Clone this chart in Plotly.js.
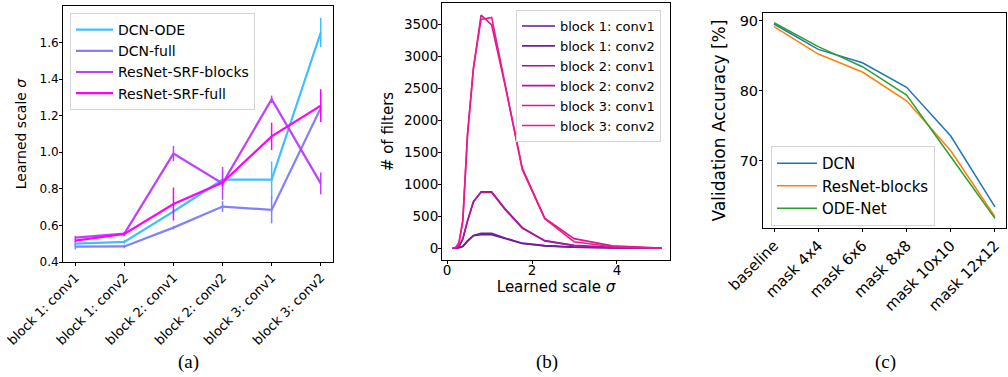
<!DOCTYPE html>
<html>
<head>
<meta charset="utf-8">
<script src="https://cdn.plot.ly/plotly-3.0.1.min.js"></script>
<style>
  html, body { margin: 0; padding: 0; background: #fff; }
  #chart { width: 1008px; height: 377px; }
</style>
</head>
<body>
<div id="chart"></div>
<script>
// ---------- Panel (a): learned scale per layer ----------
const layersA = ['block 1: conv1', 'block 1: conv2', 'block 2: conv1', 'block 2: conv2', 'block 3: conv1', 'block 3: conv2'];
const dcnOde      = [0.50, 0.51, 0.676, 0.85, 0.85, 1.655];
const dcnOdeErr   = [0.01, 0.01, 0.01, 0.05, 0.10, 0.08];
const dcnFull     = [0.484, 0.485, 0.588, 0.703, 0.685, 1.242];
const dcnFullErr  = [0.015, 0.01, 0.01, 0.03, 0.073, 0.02];
const srfBlocks   = [0.533, 0.555, 0.993, 0.83, 1.29, 0.83];
const srfBlocksErr= [0.01, 0.01, 0.042, 0.09, 0.02, 0.06];
const srfFull     = [0.517, 0.553, 0.717, 0.835, 1.087, 1.255];
const srfFullErr  = [0.01, 0.01, 0.09, 0.02, 0.075, 0.09];

// ---------- Panel (b): histogram of learned scales ----------
const sigmaB = [0.13, 0.17, 0.22, 0.28, 0.37, 0.48, 0.62, 0.80, 1.05, 1.36, 1.77, 2.30, 2.99, 3.89, 5.05];
const b1c1 = [0, 0, 2, 8, 25, 108, 195, 211, 212, 150, 75, 38, 15, 5, 0];
const b1c2 = [0, 0, 3, 10, 30, 118, 200, 234, 232, 160, 80, 42, 18, 6, 0];
const b2c1 = [0, 1, 5, 25, 140, 420, 720, 883, 883, 620, 322, 120, 45, 12, 1];
const b2c2 = [0, 1, 6, 30, 150, 430, 730, 875, 872, 610, 315, 115, 40, 10, 1];
const b3c1 = [0, 2, 20, 80, 420, 1750, 2800, 3640, 3485, 2560, 1250, 470, 150, 38, 2];
const b3c2 = [0, 2, 25, 90, 440, 1780, 2820, 3572, 3603, 2600, 1230, 460, 103, 25, 1];
const namesB = ['block 1: conv1', 'block 1: conv2', 'block 2: conv1', 'block 2: conv2', 'block 3: conv1', 'block 3: conv2'];

// ---------- Panel (c): validation accuracy under masking ----------
const masksC = ['baseline', 'mask 4x4', 'mask 6x6', 'mask 8x8', 'mask 10x10', 'mask 12x12'];
const accDCN    = [89.53, 85.9, 84.0, 80.49, 73.53, 63.43];
const accResNet = [89.14, 85.24, 82.67, 78.57, 71.43, 62.0];
const accODE    = [89.71, 86.29, 83.43, 79.39, 70.57, 61.77];

const FONT = 'DejaVu Sans, sans-serif';
const W = 1008, H = 377;
const px = v => v / W;
const py = v => 1 - v / H;

const colorsA = ['#40bfff', '#8080ff', '#bf40ff', '#ff00ff'];
const colorsB = ['#5a1c96', '#761b9c', '#8f1a9b', '#ab1999', '#d41a92', '#f0188c'];
const colorsC = ['#1f77b4', '#ff7f0e', '#2ca02c'];

const traces = [];
const seriesA = [
  ['DCN-ODE', dcnOde, dcnOdeErr],
  ['DCN-full', dcnFull, dcnFullErr],
  ['ResNet-SRF-blocks', srfBlocks, srfBlocksErr],
  ['ResNet-SRF-full', srfFull, srfFullErr]
];
seriesA.forEach((s, i) => {
  traces.push({
    type: 'scatter', mode: 'lines', name: s[0], x: layersA, y: s[1],
    xaxis: 'x', yaxis: 'y', legend: 'legend',
    line: {color: colorsA[i], width: 2.2},
    error_y: {type: 'data', array: s[2], visible: true, thickness: 1.5, width: 0, color: colorsA[i]}
  });
});
[b1c1, b1c2, b2c1, b2c2, b3c1, b3c2].forEach((ys, i) => {
  traces.push({
    type: 'scatter', mode: 'lines', name: namesB[i], x: sigmaB, y: ys,
    xaxis: 'x2', yaxis: 'y2', legend: 'legend2',
    line: {color: colorsB[i], width: 1.6}
  });
});
[['DCN', accDCN], ['ResNet-blocks', accResNet], ['ODE-Net', accODE]].forEach((s, i) => {
  traces.push({
    type: 'scatter', mode: 'lines', name: s[0], x: masksC, y: s[1],
    xaxis: 'x3', yaxis: 'y3', legend: 'legend3',
    line: {color: colorsC[i], width: 1.5}
  });
});

function axis(extra) {
  return Object.assign({
    showline: true, mirror: true, linecolor: '#000', linewidth: 1,
    ticks: 'outside', ticklen: 3, tickwidth: 1, tickcolor: '#000',
    showgrid: false, zeroline: false, automargin: false,
    tickfont: {family: FONT, size: 12, color: '#000'}
  }, extra);
}
function legendBox(x, y, size, iw) {
  return {
    x: x, y: y, xanchor: 'left', yanchor: 'top', itemwidth: iw,
    bgcolor: 'rgba(255,255,255,0.85)', bordercolor: '#d4d4d4', borderwidth: 1,
    font: {family: FONT, size: size, color: '#000'}
  };
}

const layout = {
  width: W, height: H,
  margin: {l: 0, r: 0, t: 0, b: 0},
  paper_bgcolor: '#fff', plot_bgcolor: '#fff',
  showlegend: true,
  xaxis: axis({domain: [px(63), px(333)], anchor: 'y', type: 'category', range: [-0.25, 5.25],
               tickangle: -45, ticklabelstandoff: -1, tickfont: {family: FONT, size: 13, color: '#000'}}),
  yaxis: axis({domain: [py(262), py(6)], anchor: 'x', range: [0.4, 1.80], ticklabelstandoff: -2,
               tickvals: [0.4, 0.6, 0.8, 1.0, 1.2, 1.4, 1.6], ticktext: ['0.4', '0.6', '0.8', '1.0', '1.2', '1.4', '1.6'],
               title: {text: 'Learned scale <i>σ</i>', font: {family: FONT, size: 14, color: '#000'}, standoff: 9}}),
  xaxis2: axis({domain: [px(442), px(670)], anchor: 'y2', range: [-0.12, 5.25], ticklabelstandoff: -5,
               tickvals: [0, 2, 4], tickfont: {family: FONT, size: 13.5, color: '#000'},
               title: {text: 'Learned scale <i>σ</i>', font: {family: FONT, size: 15, color: '#000'}, standoff: 0}}),
  yaxis2: axis({domain: [py(260), py(3)], anchor: 'x2', range: [-183, 3828], ticklabelstandoff: -3,
               tickvals: [0, 500, 1000, 1500, 2000, 2500, 3000, 3500], tickfont: {family: FONT, size: 13.5, color: '#000'},
               title: {text: '# of filters', font: {family: FONT, size: 15, color: '#000'}, standoff: 6}}),
  xaxis3: axis({domain: [px(763), px(1006)], anchor: 'y3', type: 'category', range: [-0.25, 5.25],
               tickangle: -45, ticklabelstandoff: -1, tickfont: {family: FONT, size: 15, color: '#000'}}),
  yaxis3: axis({domain: [py(228), py(13)], anchor: 'x3', range: [60.4, 91.1], ticklabelstandoff: -2,
               tickvals: [70, 80, 90], tickfont: {family: FONT, size: 14.5, color: '#000'},
               title: {text: 'Validation Accuracy [%]', font: {family: FONT, size: 17, color: '#000'}, standoff: 9}}),
  legend: legendBox(px(70), py(13), 14, 37),
  legend2: legendBox(px(516), py(10), 13, 33),
  legend3: legendBox(px(771), py(146), 15, 40),
  annotations: [
    {text: '(a)', x: px(188), y: py(362), xref: 'paper', yref: 'paper', showarrow: false, xanchor: 'center', yanchor: 'middle',
     font: {family: 'Liberation Serif, serif', size: 19, color: '#000'}},
    {text: '(b)', x: px(547), y: py(362), xref: 'paper', yref: 'paper', showarrow: false, xanchor: 'center', yanchor: 'middle',
     font: {family: 'Liberation Serif, serif', size: 19, color: '#000'}},
    {text: '(c)', x: px(885), y: py(362), xref: 'paper', yref: 'paper', showarrow: false, xanchor: 'center', yanchor: 'middle',
     font: {family: 'Liberation Serif, serif', size: 19, color: '#000'}}
  ]
};

Plotly.newPlot('chart', traces, layout, {staticPlot: true, displayModeBar: false});
</script>
</body>
</html>
